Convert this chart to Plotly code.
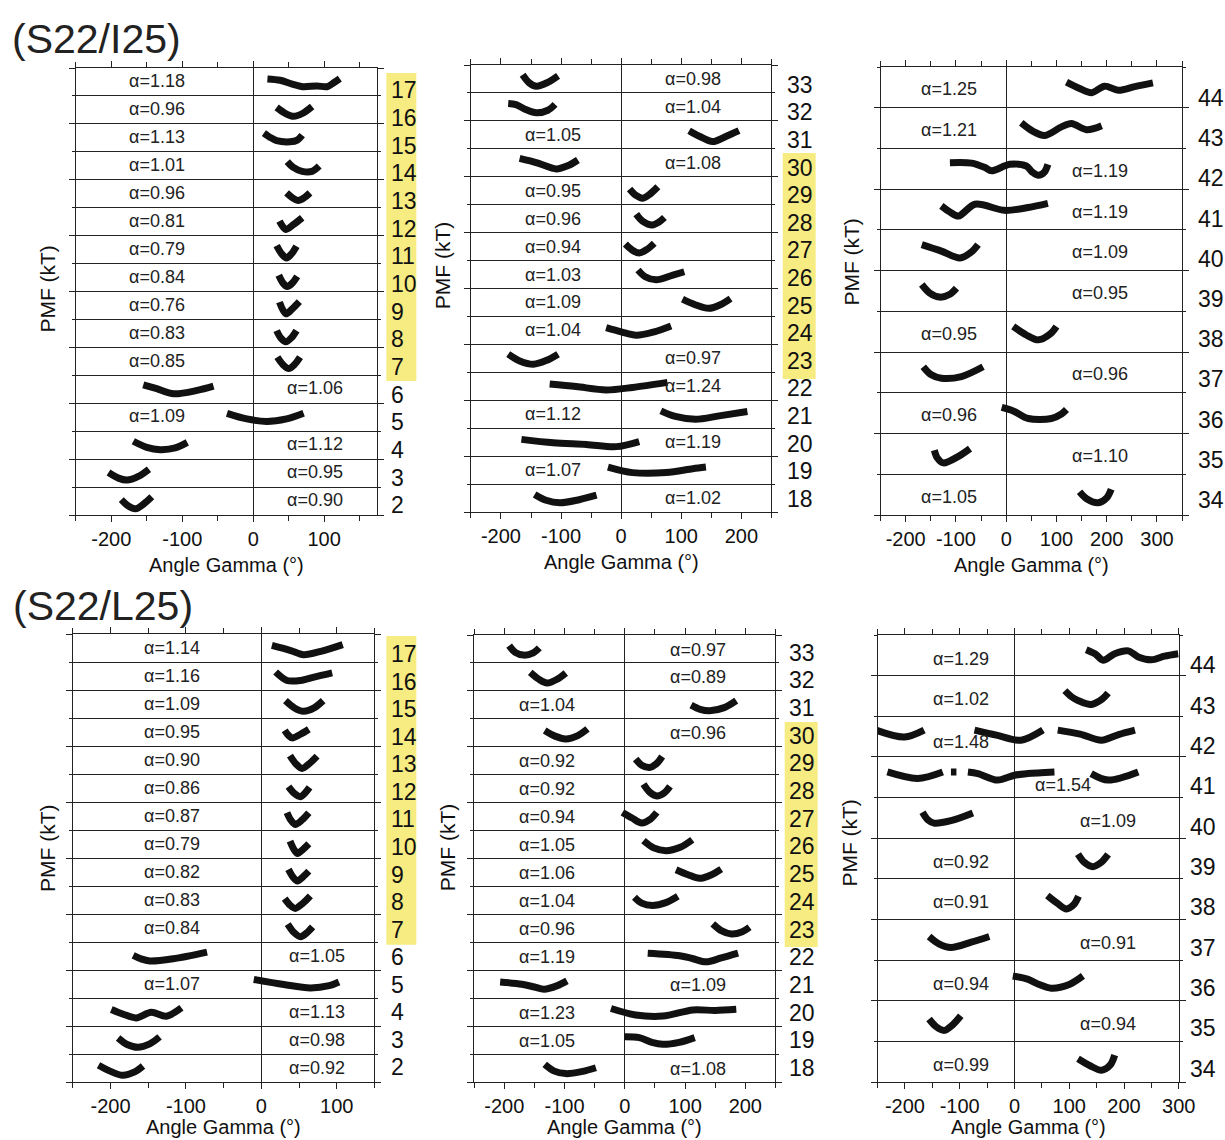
import plotly.graph_objects as go

W, H = 1225, 1140          # reference picture size (design coordinates)
FIG_W, FIG_H = 1240, 1140  # figure size (the viewer squeezes the width slightly)

# ---------------- data ----------------
# Panel 1: (S22/I25), rows 17 -> 2
P1_ROWS = list(range(17, 1, -1))
P1_ALPHA = [1.18, 0.96, 1.13, 1.01, 0.96, 0.81, 0.79, 0.84, 0.76, 0.83, 0.85, 1.06, 1.09, 1.12, 0.95, 0.90]
P1_SIDE = "LLLLLLLLLLLRLRRR"
P1_HILITE = (7, 17)
P1_TICKS = [-200, -100, 0, 100]
P1_CURVES = [
    ([20, 38, 55, 70, 90, 104, 114, 122], [0.61, 0.56, 0.42, 0.33, 0.36, 0.33, 0.48, 0.62]),
    ([33, 45, 57, 70, 83], [0.59, 0.38, 0.27, 0.38, 0.62]),
    ([15, 25, 33, 52, 62, 69], [0.67, 0.50, 0.40, 0.36, 0.42, 0.60]),
    ([48, 56, 69, 83, 93], [0.65, 0.45, 0.30, 0.30, 0.49]),
    ([47, 55, 63, 72, 80], [0.53, 0.36, 0.26, 0.36, 0.53]),
    ([37, 46, 57, 69], [0.52, 0.22, 0.40, 0.64]),
    ([33, 40, 47, 54, 61], [0.64, 0.35, 0.20, 0.35, 0.62]),
    ([36, 42, 48, 55, 62], [0.58, 0.30, 0.18, 0.30, 0.54]),
    ([37, 46, 55, 65], [0.62, 0.20, 0.38, 0.64]),
    ([33, 39, 46, 54, 61], [0.60, 0.33, 0.20, 0.35, 0.60]),
    ([34, 42, 50, 58, 66], [0.65, 0.38, 0.24, 0.38, 0.65]),
    ([-155, -136, -112, -79, -56], [0.66, 0.52, 0.34, 0.46, 0.61]),
    ([-37, -9, 19, 47, 71], [0.64, 0.44, 0.35, 0.44, 0.64]),
    ([-169, -150, -131, -110, -93], [0.64, 0.42, 0.34, 0.40, 0.60]),
    ([-204, -190, -178, -162, -147], [0.52, 0.32, 0.25, 0.38, 0.64]),
    ([-186, -176, -166, -155, -143], [0.55, 0.32, 0.22, 0.38, 0.65]),
]

# Panel 2: (S22/I25), rows 33 -> 18
P2_ROWS = list(range(33, 17, -1))
P2_ALPHA = [0.98, 1.04, 1.05, 1.08, 0.95, 0.96, 0.94, 1.03, 1.09, 1.04, 0.97, 1.24, 1.12, 1.19, 1.07, 1.02]
P2_SIDE = "RRLRLLLLLLRRLRLR"
P2_HILITE = (23, 30)
P2_TICKS = [-200, -100, 0, 100, 200]
P2_CURVES = [
    ([-164, -153, -141, -122, -105], [0.65, 0.36, 0.24, 0.38, 0.61]),
    ([-188, -175, -160, -141, -122, -110], [0.62, 0.58, 0.42, 0.29, 0.38, 0.59]),
    ([113, 130, 152, 175, 196], [0.65, 0.45, 0.26, 0.45, 0.65]),
    ([-169, -150, -135, -108, -88, -72], [0.66, 0.56, 0.46, 0.28, 0.40, 0.60]),
    ([14, 24, 36, 48, 61], [0.56, 0.34, 0.23, 0.38, 0.64]),
    ([25, 36, 52, 63, 72], [0.66, 0.40, 0.27, 0.38, 0.54]),
    ([7, 18, 30, 43, 55], [0.59, 0.38, 0.27, 0.40, 0.62]),
    ([28, 40, 58, 86, 105], [0.66, 0.42, 0.31, 0.48, 0.60]),
    ([102, 123, 146, 165, 182], [0.62, 0.42, 0.29, 0.42, 0.64]),
    ([-25, 0, 25, 55, 83], [0.60, 0.45, 0.33, 0.45, 0.66]),
    ([-188, -168, -146, -125, -105], [0.65, 0.40, 0.29, 0.42, 0.65]),
    ([-119, -75, -25, 19, 77], [0.58, 0.49, 0.37, 0.46, 0.64]),
    ([66, 90, 124, 163, 210], [0.62, 0.42, 0.32, 0.44, 0.60]),
    ([-166, -113, -58, -8, 30], [0.60, 0.48, 0.42, 0.34, 0.52]),
    ([-22, 19, 75, 119, 141], [0.61, 0.41, 0.41, 0.55, 0.61]),
    ([-144, -125, -102, -70, -41], [0.63, 0.42, 0.33, 0.44, 0.60]),
]

# Panel 3: (S22/I25), rows 44 -> 34
P3_ROWS = list(range(44, 33, -1))
P3_ALPHA = [1.25, 1.21, 1.19, 1.19, 1.09, 0.95, 0.95, 0.96, 0.96, 1.10, 1.05]
P3_SIDE = "LLRRRRLRLRL"
P3_TICKS = [-200, -100, 0, 100, 200, 300]
P3_CURVES = [
    ([120, 145, 170, 196, 223, 256, 292], [0.63, 0.48, 0.37, 0.53, 0.43, 0.52, 0.61]),
    ([30, 52, 77, 110, 130, 160, 190], [0.63, 0.43, 0.32, 0.53, 0.61, 0.46, 0.56]),
    ([-112, -69, -42, -29, 7, 40, 52, 64, 76, 83], [0.65, 0.64, 0.53, 0.45, 0.61, 0.57, 0.42, 0.34, 0.42, 0.61]),
    ([-129, -112, -95, -62, -3, 44, 83], [0.59, 0.44, 0.34, 0.63, 0.48, 0.55, 0.65]),
    ([-168, -129, -92, -70, -56], [0.64, 0.48, 0.31, 0.45, 0.64]),
    ([-168, -152, -132, -112, -99], [0.66, 0.45, 0.35, 0.42, 0.57]),
    ([14, 40, 64, 88, 100], [0.63, 0.42, 0.30, 0.45, 0.63]),
    ([-165, -150, -129, -89, -46], [0.64, 0.45, 0.36, 0.40, 0.64]),
    ([-9, 15, 44, 90, 110, 120], [0.64, 0.55, 0.37, 0.37, 0.48, 0.59]),
    ([-143, -137, -125, -95, -72], [0.59, 0.40, 0.28, 0.44, 0.63]),
    ([146, 160, 183, 200, 209], [0.57, 0.40, 0.30, 0.42, 0.63]),
]

# Panel 4: (S22/L25), rows 17 -> 2
P4_ROWS = list(range(17, 1, -1))
P4_ALPHA = [1.14, 1.16, 1.09, 0.95, 0.90, 0.86, 0.87, 0.79, 0.82, 0.83, 0.84, 1.05, 1.07, 1.13, 0.98, 0.92]
P4_SIDE = "LLLLLLLLLLLRLRRR"
P4_HILITE = (7, 17)
P4_TICKS = [-200, -100, 0, 100]
P4_CURVES = [
    ([14, 39, 56, 79, 108], [0.59, 0.41, 0.26, 0.38, 0.62]),
    ([19, 34, 52, 70, 94], [0.64, 0.34, 0.34, 0.46, 0.61]),
    ([32, 44, 56, 70, 82], [0.62, 0.36, 0.24, 0.36, 0.62]),
    ([31, 36, 41, 52, 63], [0.56, 0.38, 0.29, 0.42, 0.60]),
    ([38, 46, 54, 64, 74], [0.66, 0.36, 0.20, 0.38, 0.64]),
    ([36, 44, 52, 58, 64], [0.55, 0.30, 0.19, 0.32, 0.52]),
    ([34, 39, 45, 54, 63], [0.62, 0.36, 0.20, 0.36, 0.62]),
    ([38, 43, 48, 55, 63], [0.60, 0.32, 0.16, 0.30, 0.51]),
    ([36, 42, 48, 55, 63], [0.59, 0.32, 0.18, 0.32, 0.53]),
    ([31, 38, 45, 55, 65], [0.55, 0.32, 0.20, 0.38, 0.65]),
    ([35, 43, 52, 60, 68], [0.64, 0.35, 0.19, 0.32, 0.54]),
    ([-170, -160, -148, -117, -72], [0.52, 0.40, 0.32, 0.40, 0.64]),
    ([-10, 30, 65, 90, 103], [0.66, 0.48, 0.36, 0.44, 0.57]),
    ([-199, -183, -166, -146, -126, -106], [0.59, 0.42, 0.29, 0.49, 0.35, 0.65]),
    ([-190, -178, -164, -148, -135], [0.57, 0.34, 0.24, 0.36, 0.61]),
    ([-216, -200, -184, -168, -157], [0.60, 0.38, 0.24, 0.36, 0.57]),
]

# Panel 5: (S22/L25), rows 33 -> 18
P5_ROWS = list(range(33, 17, -1))
P5_ALPHA = [0.97, 0.89, 1.04, 0.96, 0.92, 0.92, 0.94, 1.05, 1.06, 1.04, 0.96, 1.19, 1.09, 1.23, 1.05, 1.08]
P5_SIDE = "RRLRLLLLLLLLRLLR"
P5_HILITE = (23, 30)
P5_TICKS = [-200, -100, 0, 100, 200]
P5_CURVES = [
    ([-192, -182, -168, -152, -142], [0.62, 0.38, 0.28, 0.36, 0.54]),
    ([-157, -143, -129, -112, -98], [0.66, 0.42, 0.28, 0.42, 0.64]),
    ([110, 125, 141, 165, 185], [0.49, 0.34, 0.29, 0.40, 0.65]),
    ([-133, -116, -98, -78, -62], [0.58, 0.38, 0.28, 0.40, 0.64]),
    ([18, 28, 41, 52, 62], [0.56, 0.34, 0.26, 0.38, 0.65]),
    ([31, 41, 53, 65, 75], [0.66, 0.38, 0.24, 0.34, 0.58]),
    ([-4, 12, 28, 42, 53], [0.65, 0.45, 0.27, 0.40, 0.65]),
    ([31, 48, 68, 92, 112], [0.64, 0.38, 0.28, 0.40, 0.67]),
    ([85, 105, 124, 144, 160], [0.60, 0.42, 0.29, 0.42, 0.62]),
    ([16, 28, 46, 68, 88], [0.61, 0.40, 0.32, 0.42, 0.65]),
    ([146, 160, 177, 195, 207], [0.66, 0.42, 0.30, 0.38, 0.54]),
    ([38, 91, 112, 135, 160, 188], [0.61, 0.52, 0.42, 0.30, 0.44, 0.61]),
    ([-207, -171, -150, -134, -112, -96], [0.58, 0.50, 0.40, 0.32, 0.45, 0.62]),
    ([-23, 18, 63, 113, 150, 185], [0.63, 0.40, 0.36, 0.58, 0.56, 0.60]),
    ([-1, 24, 45, 63, 90, 116], [0.62, 0.59, 0.42, 0.35, 0.42, 0.59]),
    ([-133, -118, -98, -70, -48], [0.63, 0.40, 0.30, 0.38, 0.51]),
]

# Panel 6: (S22/L25), rows 44 -> 34
P6_ROWS = list(range(44, 33, -1))
P6_ALPHA = [1.29, 1.02, 1.48, 1.54, 1.09, 0.92, 0.91, 0.91, 0.94, 0.94, 0.99]
P6_SIDE = "LLLRRLLRLRL"
P6_TICKS = [-200, -100, 0, 100, 200, 300]
P6_CURVES = [
    ([131, 147, 162, 183, 208, 226, 250, 274, 299], [0.64, 0.54, 0.38, 0.54, 0.61, 0.46, 0.39, 0.48, 0.54]),
    ([92, 104, 116, 140, 160, 171], [0.63, 0.48, 0.39, 0.29, 0.42, 0.57]),
    ([-253, -201, -165, None, -73, -31, 12, 52, None, 79, 120, 159, 190, 220],
     [0.66, 0.49, 0.66, None, 0.66, 0.53, 0.41, 0.66, None, 0.66, 0.56, 0.41, 0.55, 0.66]),
    ([-232, -177, -131, None, -116, -106, None, -85, -67, -31, 0, 24, 73, None, 140, 171, 226],
     [0.63, 0.47, 0.63, None, 0.63, 0.63, None, 0.63, 0.59, 0.43, 0.55, 0.59, 0.63, None, 0.59, 0.43, 0.63]),
    ([-168, -158, -147, -116, -76], [0.64, 0.45, 0.37, 0.43, 0.62]),
    ([116, 128, 143, 158, 171], [0.61, 0.40, 0.30, 0.40, 0.60]),
    ([60, 78, 95, 108, 117], [0.59, 0.40, 0.26, 0.36, 0.57]),
    ([-156, -138, -116, -79, -46], [0.58, 0.40, 0.31, 0.44, 0.58]),
    ([-3, 24, 45, 67, 100, 125], [0.61, 0.53, 0.40, 0.31, 0.40, 0.61]),
    ([-156, -143, -128, -112, -98], [0.55, 0.36, 0.27, 0.42, 0.63]),
    ([116, 138, 159, 175, 183], [0.57, 0.40, 0.29, 0.42, 0.66]),
]

TITLES = ["(S22/I25)", "(S22/L25)"]
X_TITLE = "Angle Gamma (°)"
Y_TITLE = "PMF (kT)"

# ---------------- layout settings ----------------
PANELS = [
    dict(rows=P1_ROWS, alpha=P1_ALPHA, side=P1_SIDE, curves=P1_CURVES, hl=P1_HILITE, ticks=P1_TICKS,
         px=(76, 378), py=(68, 515), xr=(-250, 175), lx=(-135, 87), af=0.53, nf=(0.20, 0.34), nx=390,
         hx=(387, 417), hoff=(-0.20, -0.18), ytp=(46.7, 289), xtp=565, special={}),
    dict(rows=P2_ROWS, alpha=P2_ALPHA, side=P2_SIDE, curves=P2_CURVES, hl=P2_HILITE, ticks=P2_TICKS,
         px=(471.7, 772.7), py=(65, 512), xr=(-250, 250), lx=(-113, 119), af=0.50, nf=(0.29, 0.47), nx=786,
         hx=(784, 817), hoff=(-0.24, -0.15), ytp=(443, 266), xtp=562, special={}),
    dict(rows=P3_ROWS, alpha=P3_ALPHA, side=P3_SIDE, curves=P3_CURVES, hl=None, ticks=P3_TICKS,
         px=(882, 1184), py=(67, 515), xr=(-250, 350), lx=(-113, 186), af=0.45, nf=(0.24, 0.37), nx=1198,
         hx=None, hoff=None, ytp=(852, 262), xtp=565, special={}),
    dict(rows=P4_ROWS, alpha=P4_ALPHA, side=P4_SIDE, curves=P4_CURVES, hl=P4_HILITE, ticks=P4_TICKS,
         px=(73, 375), py=(634, 1082), xr=(-250, 150), lx=(-119, 74), af=0.51, nf=(0.28, 0.52), nx=390,
         hx=(387, 417), hoff=(-0.10, -0.07), ytp=(47, 848), xtp=1127, special={}),
    dict(rows=P5_ROWS, alpha=P5_ALPHA, side=P5_SIDE, curves=P5_CURVES, hl=P5_HILITE, ticks=P5_TICKS,
         px=(475, 776.7), py=(635, 1082), xr=(-250, 250), lx=(-129, 121), af=0.48, nf=(0.37, 0.50), nx=788,
         hx=(786, 819), hoff=(-0.17, -0.11), ytp=(448, 848), xtp=1127, special={}),
    dict(rows=P6_ROWS, alpha=P6_ALPHA, side=P6_SIDE, curves=P6_CURVES, hl=None, ticks=P6_TICKS,
         px=(879, 1180.7), py=(635, 1082), xr=(-250, 300), lx=(-98, 170), af=0.42, nf=(0.25, 0.33), nx=1190,
         hx=None, hoff=None, ytp=(850, 843), xtp=1127, special={42: (-98, 0.37), 41: (89, 0.30)}),
]

FONT = "Liberation Sans, Arial, sans-serif"
AXC = "#222222"
YELLOW = "#F7EC82"

fig = go.Figure()
annotations = []
shapes = []
layout = {}

for k, P in enumerate(PANELS, start=1):
    xa = "x" if k == 1 else f"x{k}"
    ya = "y" if k == 1 else f"y{k}"
    n = len(P["rows"])
    x0, x1 = P["px"]
    yt, yb = P["py"]
    layout["xaxis" if k == 1 else f"xaxis{k}"] = dict(
        domain=[x0 / W, x1 / W], anchor=ya, range=list(P["xr"]),
        tickmode="array", tickvals=P["ticks"], ticktext=[str(t) for t in P["ticks"]],
        ticks="outside", ticklen=6, tickwidth=1, tickcolor=AXC,
        minor=dict(dtick=50, tick0=0, ticks="outside", ticklen=5, tickcolor=AXC, showgrid=False),
        showline=True, linecolor=AXC, linewidth=1, mirror="ticks",
        showgrid=False, zeroline=True, zerolinecolor=AXC, zerolinewidth=1,
        tickfont=dict(family=FONT, size=20, color="#111"), fixedrange=True,
    )
    layout["yaxis" if k == 1 else f"yaxis{k}"] = dict(
        domain=[1 - yb / H, 1 - yt / H], anchor=xa, range=[0, n],
        tickmode="linear", tick0=0, dtick=2, showticklabels=False,
        ticks="outside", ticklen=6, tickwidth=1, tickcolor=AXC,
        minor=dict(dtick=1, tick0=0, ticks="outside", ticklen=3, tickcolor=AXC,
                   showgrid=True, gridcolor=AXC, gridwidth=1),
        showline=True, linecolor=AXC, linewidth=1, mirror="ticks",
        showgrid=True, gridcolor=AXC, gridwidth=1, zeroline=False, fixedrange=True,
    )

    for r, row in enumerate(P["rows"]):
        i = n - 1 - r  # row index from bottom
        xs, fs = P["curves"][r]
        ys = [None if f is None else i + f for f in fs]
        fig.add_trace(go.Scatter(
            x=xs, y=ys, mode="lines", xaxis=xa, yaxis=ya, showlegend=False, hoverinfo="skip",
            line=dict(color="#111111", width=7, shape="spline", smoothing=0.9),
        ))
        # alpha label
        if row in P["special"]:
            lx, lf = P["special"][row]
        else:
            lx = P["lx"][0] if P["side"][r] == "L" else P["lx"][1]
            lf = P["af"]
        annotations.append(dict(
            x=lx, y=i + lf, xref=xa, yref=ya, text=f"α={P['alpha'][r]:.2f}", showarrow=False,
            xanchor="center", yanchor="middle", font=dict(family=FONT, size=18, color="#222")))
        # row number
        t = r / (n - 1)
        nf = P["nf"][0] + (P["nf"][1] - P["nf"][0]) * t
        annotations.append(dict(
            x=P["nx"] / W, y=i + nf, xref="paper", yref=ya, text=str(row), showarrow=False,
            xanchor="left", yanchor="middle", font=dict(family=FONT, size=23, color="#111")))

    # highlight box
    if P["hl"] is not None:
        lo, hi = P["hl"]
        i_lo = P["rows"].index(lo)
        i_hi = P["rows"].index(hi)
        y_lo = (n - 1 - i_lo) + P["hoff"][0]
        y_hi = (n - 1 - i_hi) + 1 + P["hoff"][1]
        shapes.append(dict(type="rect", xref="paper", yref=ya, x0=P["hx"][0] / W, x1=P["hx"][1] / W,
                           y0=y_lo, y1=y_hi, fillcolor=YELLOW, line=dict(width=0), layer="below"))

    # axis titles
    annotations.append(dict(x=(x0 + x1) / 2 / W, y=1 - P["xtp"] / H, xref="paper", yref="paper",
                            text=X_TITLE, showarrow=False, xanchor="center", yanchor="middle",
                            font=dict(family=FONT, size=20, color="#111")))
    annotations.append(dict(x=P["ytp"][0] / W, y=1 - P["ytp"][1] / H, xref="paper", yref="paper",
                            text=Y_TITLE, showarrow=False, textangle=-90, xanchor="center", yanchor="middle",
                            font=dict(family=FONT, size=21, color="#111")))

annotations.append(dict(x=10 / W, y=1 - 39 / H, xref="paper", yref="paper", text=TITLES[0], showarrow=False,
                        xanchor="left", yanchor="middle", font=dict(family=FONT, size=41, color="#222")))
annotations.append(dict(x=11 / W, y=1 - 606 / H, xref="paper", yref="paper", text=TITLES[1], showarrow=False,
                        xanchor="left", yanchor="middle", font=dict(family=FONT, size=41, color="#222")))

fig.update_layout(
    width=FIG_W, height=FIG_H, autosize=False, margin=dict(l=0, r=0, t=0, b=0, pad=0),
    paper_bgcolor="white", plot_bgcolor="white",
    annotations=annotations, shapes=shapes, **layout,
)

fig.write_html(
    "out.html",
    config={"responsive": False, "displayModeBar": False},
    post_script="document.documentElement.style.overflow='hidden';document.body.style.margin='0';document.body.style.overflow='hidden';",
)
